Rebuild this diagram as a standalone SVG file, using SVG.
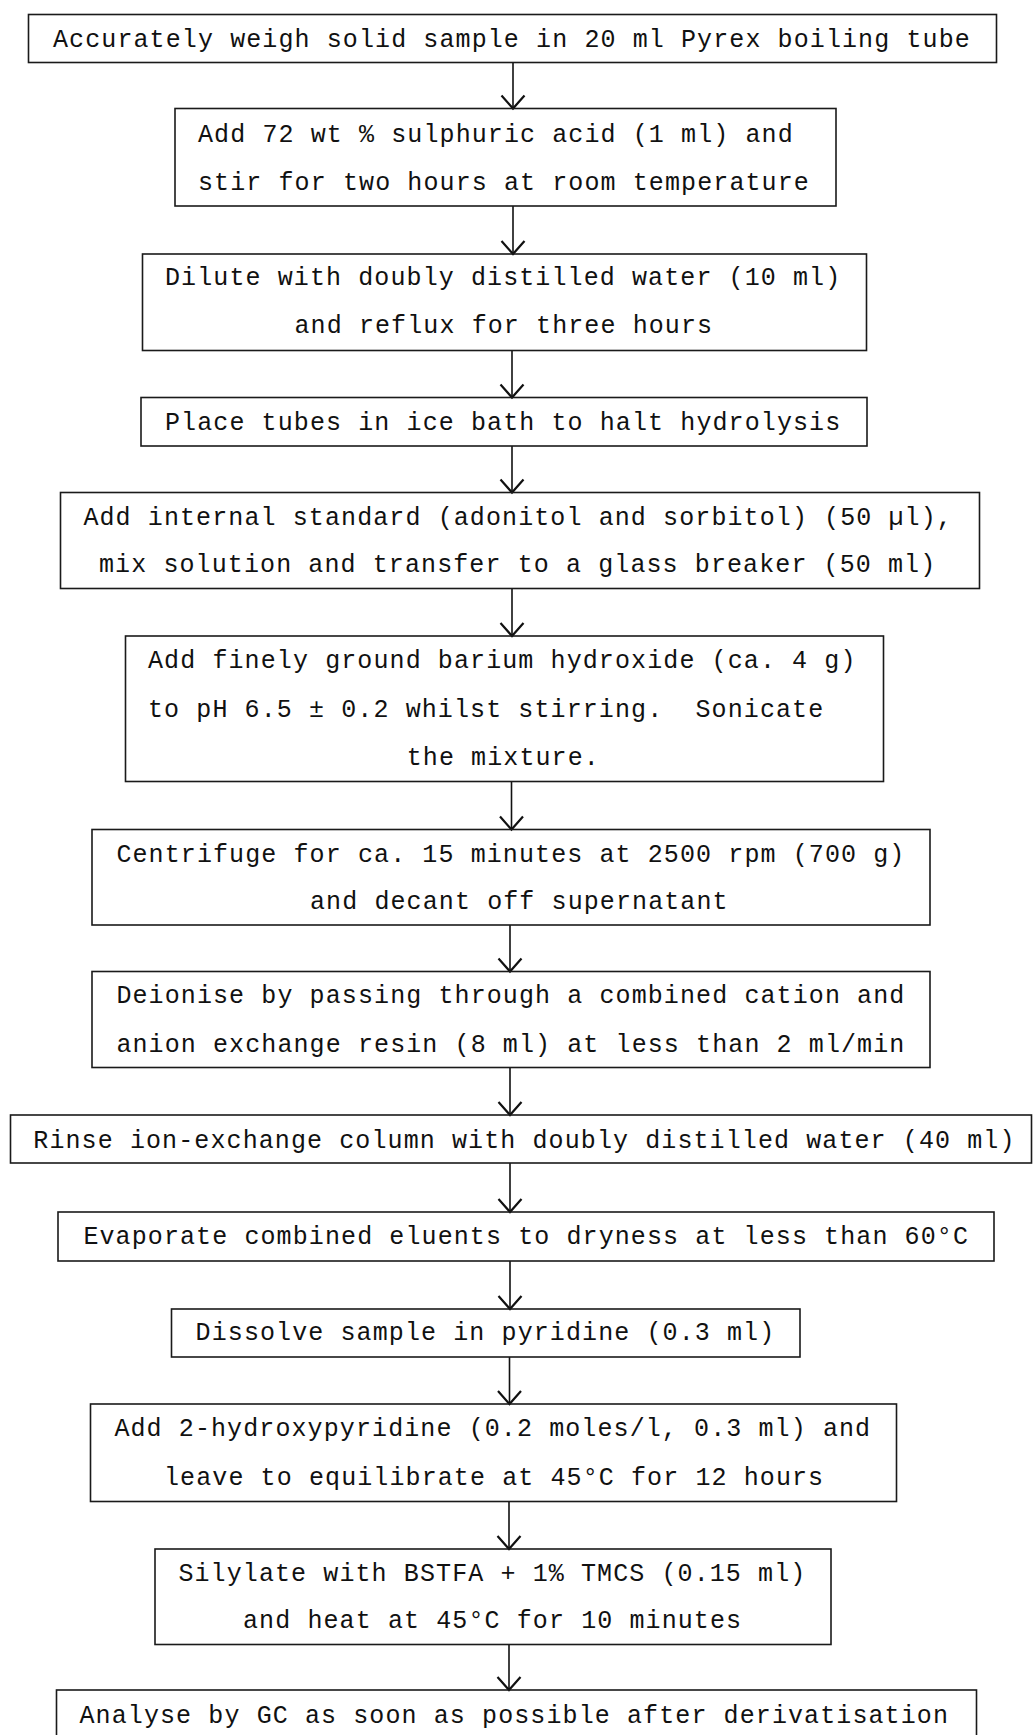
<svg xmlns="http://www.w3.org/2000/svg" width="1034" height="1735" viewBox="0 0 1034 1735">
<style>
.box{fill:none;stroke:#1a1a1a;stroke-width:1.6}
.t{font-family:"Liberation Mono","Courier New",monospace;font-size:25px;letter-spacing:1.1px;fill:#111}
.c{stroke:#111;stroke-width:1.6;fill:none}
</style>
<defs>
<marker id="ah" markerUnits="userSpaceOnUse" viewBox="-16 -16 32 32" markerWidth="32" markerHeight="32" refX="0" refY="0" orient="auto" overflow="visible">
<path d="M-13,-11.5 L0,0 L-13,11.5" fill="none" stroke="#111" stroke-width="2.2"/>
</marker>
</defs>
<rect width="1034" height="1735" fill="#fff"/>
<g id="connectors">
<line class="c" x1="513" y1="62.5" x2="513" y2="108.5" marker-end="url(#ah)"/>
<line class="c" x1="513" y1="206" x2="513" y2="254" marker-end="url(#ah)"/>
<line class="c" x1="512" y1="350.5" x2="512" y2="397.5" marker-end="url(#ah)"/>
<line class="c" x1="512" y1="446" x2="512" y2="492.5" marker-end="url(#ah)"/>
<line class="c" x1="512" y1="588.5" x2="512" y2="636" marker-end="url(#ah)"/>
<line class="c" x1="511.5" y1="781.5" x2="511.5" y2="829.5" marker-end="url(#ah)"/>
<line class="c" x1="510" y1="925" x2="510" y2="971.5" marker-end="url(#ah)"/>
<line class="c" x1="510" y1="1067.5" x2="510" y2="1115" marker-end="url(#ah)"/>
<line class="c" x1="510" y1="1163" x2="510" y2="1212" marker-end="url(#ah)"/>
<line class="c" x1="510" y1="1261" x2="510" y2="1309" marker-end="url(#ah)"/>
<line class="c" x1="509.5" y1="1357" x2="509.5" y2="1404" marker-end="url(#ah)"/>
<line class="c" x1="509" y1="1501.5" x2="509" y2="1549" marker-end="url(#ah)"/>
<line class="c" x1="509" y1="1644.5" x2="509" y2="1690" marker-end="url(#ah)"/>
</g>
<g id="n1"><rect class="box" x="28.5" y="14.5" width="968" height="48"/>
<text class="t" x="53" y="47">Accurately weigh solid sample in 20 ml Pyrex boiling tube</text></g>
<g id="n2"><rect class="box" x="175" y="108.5" width="661" height="97.5"/>
<text class="t" x="198" y="142">Add 72 wt % sulphuric acid (1 ml) and</text>
<text class="t" x="198" y="190">stir for two hours at room temperature</text></g>
<g id="n3"><rect class="box" x="142.5" y="254" width="724" height="96.5"/>
<text class="t" x="165" y="285">Dilute with doubly distilled water (10 ml)</text>
<text class="t" x="294.5" y="333">and reflux for three hours</text></g>
<g id="n4"><rect class="box" x="141" y="397.5" width="726" height="48.5"/>
<text class="t" x="165" y="430">Place tubes in ice bath to halt hydrolysis</text></g>
<g id="n5"><rect class="box" x="60.5" y="492.5" width="919" height="96"/>
<text class="t" x="83.4" y="525">Add internal standard (adonitol and sorbitol) (50 µl),</text>
<text class="t" x="99" y="572">mix solution and transfer to a glass breaker (50 ml)</text></g>
<g id="n6"><rect class="box" x="125.5" y="636" width="758" height="145.5"/>
<text class="t" x="148" y="668">Add finely ground barium hydroxide (ca. 4 g)</text>
<text class="t" x="148" y="717" xml:space="preserve">to pH 6.5 ± 0.2 whilst stirring.  Sonicate</text>
<text class="t" x="406.7" y="765">the mixture.</text></g>
<g id="n7"><rect class="box" x="92" y="829.5" width="838" height="95.5"/>
<text class="t" x="116.4" y="862">Centrifuge for ca. 15 minutes at 2500 rpm (700 g)</text>
<text class="t" x="310" y="909">and decant off supernatant</text></g>
<g id="n8"><rect class="box" x="92" y="971.5" width="838" height="96"/>
<text class="t" x="116.4" y="1003">Deionise by passing through a combined cation and</text>
<text class="t" x="116.4" y="1052">anion exchange resin (8 ml) at less than 2 ml/min</text></g>
<g id="n9"><rect class="box" x="10.5" y="1115" width="1021" height="48"/>
<text class="t" x="33.3" y="1148">Rinse ion-exchange column with doubly distilled water (40 ml)</text></g>
<g id="n10"><rect class="box" x="58" y="1212" width="936" height="49"/>
<text class="t" x="83.4" y="1244">Evaporate combined eluents to dryness at less than 60°C</text></g>
<g id="n11"><rect class="box" x="171.5" y="1309" width="628.5" height="48"/>
<text class="t" x="195.6" y="1340">Dissolve sample in pyridine (0.3 ml)</text></g>
<g id="n12"><rect class="box" x="90.5" y="1404" width="806" height="97.5"/>
<text class="t" x="114.4" y="1435.5">Add 2-hydroxypyridine (0.2 moles/l, 0.3 ml) and</text>
<text class="t" x="164" y="1485">leave to equilibrate at 45°C for 12 hours</text></g>
<g id="n13"><rect class="box" x="155" y="1549" width="676" height="95.5"/>
<text class="t" x="178.4" y="1580.5">Silylate with BSTFA + 1% TMCS (0.15 ml)</text>
<text class="t" x="243" y="1628">and heat at 45°C for 10 minutes</text></g>
<g id="n14"><rect class="box" x="56.5" y="1690" width="920" height="70"/>
<text class="t" x="79.5" y="1723">Analyse by GC as soon as possible after derivatisation</text></g>
</svg>
